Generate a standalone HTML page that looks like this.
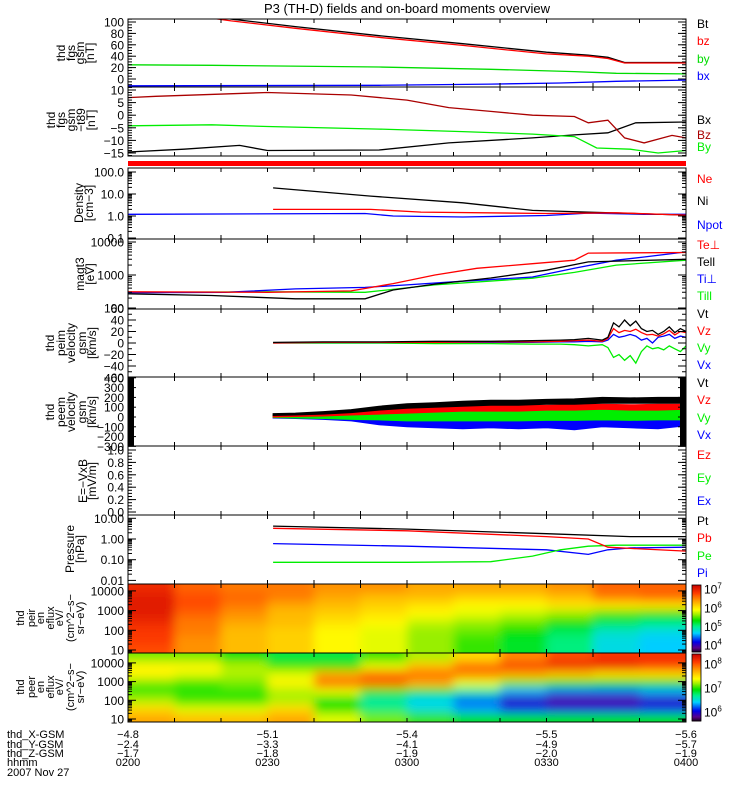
<!DOCTYPE html>
<html><head><meta charset="utf-8"><title>P3 (TH-D) overview</title>
<style>
html,body{margin:0;padding:0;background:#fff;width:750px;height:800px;overflow:hidden}
svg{display:block;font-family:"Liberation Sans",sans-serif}
text{font-size:12px}
</style></head>
<body>
<svg id="chart" width="750" height="800" viewBox="0 0 750 800" xmlns="http://www.w3.org/2000/svg">
<defs>
<filter id="blur" x="-5%" y="-5%" width="110%" height="110%"><feGaussianBlur stdDeviation="5"/></filter>
</defs>
<text x="407" y="13" text-anchor="middle" style="font-size:13px">P3 (TH-D) fields and on-board moments overview</text>
<g id="layer"></g>
</svg>
<script>
// ---------- DATA ----------
const fgsT = [0,0.37,0.6,0.9,1.2,1.5,1.65,1.72,1.78,2.0];
const fgsBt = [130,105,92,76,62,47,42,38,29,29];
const fgsBz = [127,102,89,73,59,44,40,36,28,28];
const byT = [0,0.3,0.9,1.3,1.6,1.75,2.0];
const fgsBy = [25,24,21,17,13,10,9];
const bxT = [0,0.9,1.3,1.55,1.75,2.0];
const fgsBx = [-12,-11,-9,-7,-4,-2];

const t89BzT = [0,0.1,0.5,0.8,1.0,1.15,1.3,1.45,1.6,1.65,1.72,1.78,1.85,1.95,2.0];
const t89Bz = [7,7.5,9,8,6,3,1.5,0,-0.5,-3,-2,-9,-11,-8,-9];
const t89ByT = [0,0.3,0.5,0.9,1.2,1.45,1.6,1.68,1.8,1.9,2.0];
const t89By = [-4.2,-3.8,-4.5,-5.5,-6.5,-7.5,-8.5,-13,-13.5,-15,-14];
const t89BxT = [0,0.2,0.4,0.5,0.9,1.15,1.45,1.6,1.72,1.82,2.0];
const t89Bx = [-14.6,-13.5,-12,-14,-13.8,-11,-9,-7.8,-7,-3,-2.7];

const niT = [0.52,0.87,1.2,1.45,1.65,2.0];
const densNi = [19,8,4,1.8,1.5,1.1];
const neT = [0.52,0.87,1.05,1.5,1.75,2.0];
const densNe = [2.0,2.0,1.5,1.3,1.4,1.1];
const npotT = [0,0.85,0.95,1.2,1.5,1.65,1.85,2.0];
const densNpot = [1.2,1.3,1.0,0.9,1.05,1.35,1.2,1.2];

const tePerpT = [0,0.5,0.8,0.95,1.1,1.25,1.45,1.6,1.65,2.0];
const tePerp = [310,300,330,550,1000,1600,2200,2800,4600,4800];
const teParT = [0,0.3,0.6,0.85,0.95,1.1,1.3,1.5,1.65,2.0];
const tePar = [270,240,190,190,350,530,810,1400,2500,3000];
const tiPerpT = [0,0.35,0.6,0.85,1.0,1.2,1.45,1.6,1.75,1.85,2.0];
const tiPerp = [290,300,380,420,500,650,870,1600,2800,3500,5000];
const tiParT = [0,0.5,0.85,1.1,1.45,1.6,1.75,2.0];
const tiPar = [300,310,300,500,800,1200,2000,2800];

const vTimes = [0.52,0.7,0.9,1.1,1.3,1.45,1.55,1.6,1.65,1.7,1.72,1.74,1.76,1.78,1.8,1.82,1.84,1.86,1.88,1.9,1.92,1.94,1.96,1.98,2.0];
const peimVx = [0,0,0,0,1,1,2,2,3,2,5,15,10,12,15,12,5,8,0,10,12,15,8,12,10];
const peimVy = [0,0,0,-1,-1,-2,-2,-3,-5,-3,-8,-25,-20,-30,-22,-35,-15,-5,-10,-8,-12,-5,-10,-15,-5];
const peimVz = [0,1,1,1,2,2,3,4,5,3,8,25,18,22,20,24,18,14,15,12,16,22,14,20,18];
const peimVt = [1,2,2,3,3,4,5,6,8,5,10,35,28,40,30,38,25,20,22,15,20,28,18,25,20];

const peemT = [0.52,0.6,0.7,0.8,0.9,1.0,1.1,1.2,1.3,1.4,1.5,1.6,1.7,1.8,1.9,2.0];
const peemVxLo = [-10,-15,-25,-40,-80,-100,-110,-120,-110,-120,-110,-130,-100,-110,-120,-90];
const peemVxHi = [0,0,0,0,0,0,0,0,0,0,0,0,0,0,0,0];
const peemVyLo = [-5,-10,-15,-25,-30,-40,-40,-40,-40,-40,-35,-35,-30,-35,-30,-30];
const peemVyHi = [10,15,20,30,40,55,55,60,60,70,70,75,80,75,80,80];
const peemVzLo = [0,5,10,20,30,40,50,60,60,60,70,70,80,70,70,80];
const peemVzHi = [20,25,40,55,80,95,100,110,115,120,120,125,130,125,130,130];
const peemVtLo = [15,20,30,45,70,90,100,110,120,120,130,130,140,140,140,140];
const peemVtHi = [35,40,55,75,110,135,145,160,170,170,180,185,200,195,200,200];

const ptT = [0.52,1.0,1.5,1.8,2.0];
const presPt = [4.2,3.0,1.8,1.3,1.3];
const pbT = [0.52,1.0,1.5,1.65,1.72,1.8,2.0];
const presPb = [3.3,2.5,1.3,1.0,0.4,0.35,0.26];
const peT = [0.52,1.0,1.3,1.45,1.55,1.65,1.75,2.0];
const presPe = [0.075,0.075,0.08,0.15,0.3,0.45,0.5,0.5];
const piT = [0.52,1.0,1.5,1.65,1.72,1.8,2.0];
const presPi = [0.6,0.45,0.3,0.18,0.3,0.37,0.4];

// spectrogram log10 flux; rows top (high energy) -> bottom
const ionFlux = [
 [6.9,6.6,6.5,6.5,6.4,6.4,6.3,6.3,6.3,6.4,6.6,6.6],
 [7.0,6.7,6.6,6.5,6.3,6.2,6.2,6.1,6.1,6.2,6.5,6.6],
 [7.0,6.7,6.5,6.3,6.2,6.1,6.0,5.9,5.9,6.0,6.0,6.0],
 [7.0,6.6,6.4,6.2,6.1,6.0,5.9,5.8,5.7,5.6,5.4,5.3],
 [6.9,6.5,6.3,6.2,6.0,5.9,5.7,5.6,5.5,5.3,5.1,5.0],
 [6.8,6.5,6.2,6.1,5.9,5.8,5.6,5.5,5.3,5.1,4.8,4.7],
 [6.8,6.4,6.2,6.1,5.9,5.8,5.6,5.4,5.2,5.0,4.7,4.6],
 [6.7,6.4,6.2,6.1,5.9,5.8,5.6,5.4,5.2,5.0,4.7,4.6]];
const eleFlux = [
 [7.1,7.1,6.9,6.8,6.8,7.0,7.2,7.5,7.8,8.0,8.1,8.1],
 [7.4,7.4,7.2,7.0,7.0,7.3,7.6,7.9,8.1,8.2,8.2,8.1],
 [7.4,7.3,7.2,7.3,7.7,7.9,7.9,7.8,7.7,7.6,7.5,7.5],
 [7.1,7.0,7.1,7.4,7.9,7.9,7.7,7.3,7.1,7.0,6.9,6.9],
 [7.0,7.0,7.0,7.2,7.3,7.0,6.8,6.6,6.3,6.2,6.2,6.3],
 [7.2,7.0,7.0,7.2,6.9,6.6,6.4,6.2,5.9,5.8,5.8,5.9],
 [7.5,7.3,7.3,7.5,7.0,6.7,6.5,6.3,6.1,6.0,6.0,6.1],
 [7.7,7.6,7.6,7.7,7.3,7.1,7.0,6.9,6.9,6.9,6.9,6.9]];

const posCols = [0,0.5,1.0,1.5,2.0];
const posX = ["−4.8","−5.1","−5.4","−5.5","−5.6"];
const posY = ["−2.4","−3.3","−4.1","−4.9","−5.7"];
const posZ = ["−1.7","−1.8","−1.9","−2.0","−1.9"];
const hhmm = ["0200","0230","0300","0330","0400"];

// ---------- LAYOUT ----------
const NS="http://www.w3.org/2000/svg";
const layer=document.getElementById('layer');
const X0=128, X1=686;
const tx=t=>X0+(t/2)*(X1-X0);
const lin=(v0,y0,v1,y1)=>v=>y0+(v-v0)*(y1-y0)/(v1-v0);
const lg=(y1,ppd)=>v=>y1-ppd*Math.log10(v);

function mk(tag,attrs,parent){const e=document.createElementNS(NS,tag);for(const k in attrs)e.setAttribute(k,attrs[k]);(parent||layer).appendChild(e);return e;}

function panelGroup(name,top,bot){
  const id='clip-'+name;
  const cp=mk('clipPath',{id:id});
  mk('rect',{x:X0,y:top,width:X1-X0,height:bot-top},cp);
  const g=mk('g',{'clip-path':'url(#'+id+')'});
  
  
  return g;
}
function series(g,ts,vs,ys,color,name){
  const d=ts.map((t,i)=>(i?'L':'M')+tx(t).toFixed(1)+' '+ys(vs[i]).toFixed(1)).join(' ');
  const p=mk('path',{d:d,fill:'none',stroke:color,'stroke-width':1.3},g);
  
  
}
function band(g,ts,lo,hi,ys,color,name){
  let d='M'+ts.map((t,i)=>tx(t).toFixed(1)+' '+ys(hi[i]).toFixed(1)).join(' L');
  d+=' L'+ts.map((t,i)=>tx(t).toFixed(1)+' '+ys(lo[i]).toFixed(1)).reverse().join(' L')+' Z';
  const p=mk('path',{d:d,fill:color,stroke:color,'stroke-width':1},g);
  
  
}
function frame(name,top,bot){
  const r=mk('rect',{x:X0,y:top,width:X1-X0,height:bot-top,fill:'none',stroke:'#000','stroke-width':1});
  
  
  for(let k=1;k<12;k++){const x=tx(k/6);
    mk('line',{x1:x,y1:top,x2:x,y2:top+4,stroke:'#000'});
    mk('line',{x1:x,y1:bot,x2:x,y2:bot-4,stroke:'#000'});}
}
function yTicks(name,labels,values,ys,minors,top,bot){
  values.forEach((v,i)=>{const y=ys(v);
    mk('line',{x1:X0,y1:y,x2:X0+8,y2:y,stroke:'#000'});
    mk('line',{x1:X1,y1:y,x2:X1-8,y2:y,stroke:'#000'});
    const t=mk('text',{x:124,y:y+4.5,'text-anchor':'end'});
    t.textContent=labels[i];
    
    
  });
  minors.forEach(v=>{const y=ys(v); if(y<top||y>bot)return;
    mk('line',{x1:X0,y1:y,x2:X0+4,y2:y,stroke:'#000'});
    mk('line',{x1:X1,y1:y,x2:X1-4,y2:y,stroke:'#000'});});
}
function ytitle(lines,cxs,cy,size){
  lines.forEach((s,i)=>{const x=cxs[i]+4;
    const t=mk('text',{x:x,y:cy,'text-anchor':'middle',transform:'rotate(-90 '+x+' '+cy+')',style:'font-size:'+(size||12)+'px'});
    t.textContent=s;
    
    
  });
}
function legend(items){
  items.forEach(it=>{const t=mk('text',{x:697,y:it[2]+4,fill:it[1]});
    t.textContent=it[0];
    
    });
}
function linMinor(a,b,s){const o=[];for(let v=a;v<=b+1e-9;v+=s)o.push(v);return o;}
function logMinor(a,b){const o=[];for(let e=a;e<b;e++)for(let m=2;m<10;m++)o.push(m*Math.pow(10,e));return o;}

// ---------- PANEL 1 : fgs gsm ----------
{const top=19,bot=87,ys=lin(0,79,100,22);const g=panelGroup('fgs-gsm',top,bot);
 series(g,bxT,fgsBx,ys,'#0000ff','bx-line');
 series(g,byT,fgsBy,ys,'#00dd00','by-line');
 series(g,fgsT,fgsBt,ys,'#000','bt-line');
 series(g,fgsT,fgsBz,ys,'#ff0000','bz-line');
 frame('fgs-gsm',top,bot);
 yTicks('fgs-gsm',['100','80','60','40','20','0'],[100,80,60,40,20,0],ys,linMinor(-10,105,5),top,bot);
 ytitle(['thd','fgs','gsm','[nT]'],[61,71,80,90],53);
 legend([['Bt','#000',24],['bz','#ff0000',41],['by','#00dd00',59],['bx','#0000ff',76]]);}
// ---------- PANEL 2 : fgs t89 ----------
{const top=87,bot=156,ys=lin(10,90,-15,153);const g=panelGroup('fgs-t89',top,bot);
 series(g,t89BxT,t89Bx,ys,'#000','t89-bx-line');
 series(g,t89ByT,t89By,ys,'#00ee00','t89-by-line');
 series(g,t89BzT,t89Bz,ys,'#aa0000','t89-bz-line');
 frame('fgs-t89',top,bot);
 yTicks('fgs-t89',['10','5','0','−5','−10','−15'],[10,5,0,-5,-10,-15],ys,linMinor(-16,11,1),top,bot);
 ytitle(['thd','fgs','gsm','−t89','[nT]'],[51,61,71,81,91],120);
 legend([['Bx','#000',120],['Bz','#aa0000',135],['By','#00ee00',147]]);
 const rb=mk('rect',{x:X0,y:161,width:X1-X0,height:5,fill:'#ff0000'});
 
 }
// ---------- PANEL 3 : density ----------
{const top=168,bot=239,ys=lg(216,22);const g=panelGroup('density',top,bot);
 series(g,npotT,densNpot,ys,'#0000ff','npot-line');
 series(g,niT,densNi,ys,'#000','ni-line');
 series(g,neT,densNe,ys,'#ff0000','ne-line');
 frame('density',top,bot);
 yTicks('density',['100.0','10.0','1.0','0.1'],[100,10,1,0.1],ys,logMinor(-1,2),top,bot);
 ytitle(['Density','[cm−3]'],[79,89],203);
 legend([['Ne','#ff0000',179],['Ni','#000',201],['Npot','#0000ff',225]]);}
// ---------- PANEL 4 : temperature ----------
{const top=239,bot=309,ys=v=>308-33*(Math.log10(v)-2);const g=panelGroup('temperature',top,bot);
 series(g,tiParT,tiPar,ys,'#00ee00','ti-par-line');
 series(g,tiPerpT,tiPerp,ys,'#0000ff','ti-perp-line');
 series(g,teParT,tePar,ys,'#000','te-par-line');
 series(g,tePerpT,tePerp,ys,'#ff0000','te-perp-line');
 frame('temperature',top,bot);
 yTicks('temperature',['10000','1000','100'],[10000,1000,100],ys,logMinor(1,4),top,bot);
 ytitle(['magt3','[eV]'],[80,90],274);
 legend([['Te⊥','#ff0000',245],['Tell','#000',262],['Ti⊥','#0000ff',279],['Till','#00ee00',296]]);}
// ---------- PANEL 5 : peim velocity ----------
{const top=309,bot=377,ys=lin(0,343,20,331.5);const g=panelGroup('peim-velocity',top,bot);
 series(g,vTimes,peimVx,ys,'#0000ff','peim-vx-line');
 series(g,vTimes,peimVy,ys,'#00ee00','peim-vy-line');
 series(g,vTimes,peimVz,ys,'#ff0000','peim-vz-line');
 series(g,vTimes,peimVt,ys,'#000','peim-vt-line');
 frame('peim-velocity',top,bot);
 yTicks('peim-velocity',['60','40','20','0','−20','−40','−60'],[60,40,20,0,-20,-40,-60],ys,linMinor(-60,60,10),top,bot);
 ytitle(['thd','peim','velocity','gsm','[km/s]'],[50,61,71,82,92],343);
 legend([['Vt','#000',314],['Vz','#ff0000',331],['Vy','#00ee00',348],['Vx','#0000ff',365]]);}
// ---------- PANEL 6 : peem velocity ----------
{const top=377,bot=446,ys=lin(0,417,100,407.2);const g=panelGroup('peem-velocity',top,bot);
 band(g,peemT,peemVxLo,peemVxHi,ys,'#0000ff','peem-vx-band');
 band(g,peemT,peemVyLo,peemVyHi,ys,'#00ee00','peem-vy-band');
 band(g,peemT,peemVzLo,peemVzHi,ys,'#ff0000','peem-vz-band');
 band(g,peemT,peemVtLo,peemVtHi,ys,'#000','peem-vt-band');
 mk('rect',{x:X0,y:top,width:6,height:bot-top,fill:'#000'},g);
 mk('rect',{x:X1-6,y:top,width:6,height:bot-top,fill:'#000'},g);
 frame('peem-velocity',top,bot);
 yTicks('peem-velocity',['400','300','200','100','0','−100','−200','−300'],[400,300,200,100,0,-100,-200,-300],ys,linMinor(-300,400,50),top,bot);
 ytitle(['thd','peem','velocity','gsm','[km/s]'],[50,61,71,82,92],412);
 legend([['Vt','#000',383],['Vz','#ff0000',400],['Vy','#00ee00',418],['Vx','#0000ff',435]]);}
// ---------- PANEL 7 : E = -VxB ----------
{const top=446,bot=515,ys=lin(0,512,1,450);panelGroup('efield',top,bot);
 frame('efield',top,bot);
 yTicks('efield',['1.0','0.8','0.6','0.4','0.2','0.0'],[1,0.8,0.6,0.4,0.2,0],ys,linMinor(0,1,0.05),top,bot);
 ytitle(['E=−VxB','[mV/m]'],[83,92],481);
 legend([['Ez','#ff0000',455],['Ey','#00ee00',478],['Ex','#0000ff',501]]);}
// ---------- PANEL 8 : pressure ----------
{const top=515,bot=584,ys=lg(539,20.7);const g=panelGroup('pressure',top,bot);
 series(g,piT,presPi,ys,'#0000ff','pi-line');
 series(g,peT,presPe,ys,'#00ee00','pe-line');
 series(g,pbT,presPb,ys,'#ff0000','pb-line');
 series(g,ptT,presPt,ys,'#000','pt-line');
 frame('pressure',top,bot);
 yTicks('pressure',['10.00','1.00','0.10','0.01'],[10,1,0.1,0.01],ys,logMinor(-2,1),top,bot);
 ytitle(['Pressure','[nPa]'],[70,80],549);
 legend([['Pt','#000',521],['Pb','#ff0000',538],['Pe','#00ee00',556],['Pi','#0000ff',573]]);}

// ---------- SPECTROGRAMS ----------
const stops=[[0,[30,0,30]],[0.06,[90,0,140]],[0.15,[0,0,235]],[0.28,[0,210,255]],[0.38,[0,240,140]],[0.47,[0,225,0]],[0.56,[160,240,0]],[0.63,[255,255,0]],[0.76,[255,160,0]],[0.88,[255,60,0]],[1,[200,0,0]]];
function cmap(f){f=Math.max(0,Math.min(1,f));for(let i=1;i<stops.length;i++){if(f<=stops[i][0]){const a=stops[i-1],b=stops[i],u=(f-a[0])/(b[0]-a[0]);return 'rgb('+a[1].map((c,k)=>Math.round(c+(b[1][k]-c)*u)).join(',')+')';}}return 'rgb(200,0,0)';}
function spec(name,grid,top,bot,lo,hi){
  const g=panelGroup(name,top,bot);
  const inner=mk('g',{filter:'url(#blur)'},g);
  const nr=grid.length,nc=grid[0].length,w=(X1-X0)/nc,h=(bot-top)/nr;
  grid.forEach((row,r)=>row.forEach((v,c)=>{
    let x=X0+c*w,ww=w+0.5,y=top+r*h,hh=h+0.5;
    if(c===0){x-=15;ww+=15;} if(c===nc-1)ww+=15;
    if(r===0){y-=15;hh+=15;} if(r===nr-1)hh+=15;
    const cell=mk('rect',{x:x,y:y,width:ww,height:hh,fill:cmap((v-lo)/(hi-lo))},inner);
    
    
  }));
  frame(name,top,bot);
}
spec('peir-spectrogram',ionFlux,584,653,3.6,7.2);
{const ys=v=>650-19.7*(Math.log10(v)-1);
 yTicks('peir',['10000','1000','100','10'],[10000,1000,100,10],ys,logMinor(0,4),584,653);
 ytitle(['thd','peir','en','eflux','eV/','(cm^2−s−','sr−eV)'],[20,31,40,50,59,70,80],618,11);}
spec('peer-spectrogram',eleFlux,653,722,5.6,8.4);
{const ys=v=>719-18.7*(Math.log10(v)-1);
 yTicks('peer',['10000','1000','100','10'],[10000,1000,100,10],ys,logMinor(0,4),653,722);
 ytitle(['thd','peer','en','eflux','eV/','(cm^2−s−','sr−eV)'],[20,31,40,50,59,70,80],687,11);}
// colorbars
function cbar(name,top,bot,lo,hi,exps){
  const n=60,h=(bot-top)/n;
  for(let i=0;i<n;i++){const f=1-(i+0.5)/n;
    const r=mk('rect',{x:692,y:top+i*h,width:9,height:h+0.4,fill:cmap(f)});
    
    }
  mk('rect',{x:692,y:top,width:9,height:bot-top,fill:'none',stroke:'#000','stroke-width':0.8});
  exps.forEach(e=>{const y=bot-(e-lo)/(hi-lo)*(bot-top);
    const t=mk('text',{x:704,y:y+5,style:'font-size:12px'});
    t.textContent='10';
    const s=mk('tspan',{dy:-5,style:'font-size:8px'},t); s.textContent=String(e);
    
    });
}
cbar('ion-colorbar',585,652,3.6,7.2,[7,6,5,4]);
cbar('electron-colorbar',654,721,5.6,8.4,[8,7,6]);

// ---------- BOTTOM ORBIT LABELS ----------
[['thd_X-GSM',posX,734],['thd_Y-GSM',posY,744],['thd_Z-GSM',posZ,753],['hhmm',hhmm,762]].forEach(r=>{
  const l=mk('text',{x:7,y:r[2]+4,style:'font-size:11px'}); l.textContent=r[0];
  
  
  posCols.forEach((t,i)=>{const v=mk('text',{x:tx(t),y:r[2]+4,'text-anchor':'middle',style:'font-size:11px'});
    v.textContent=r[1][i];
    
    });
});
{const d=mk('text',{x:7,y:776,style:'font-size:11px'}); d.textContent='2007 Nov 27';
 
 }
</script>
</body></html>
